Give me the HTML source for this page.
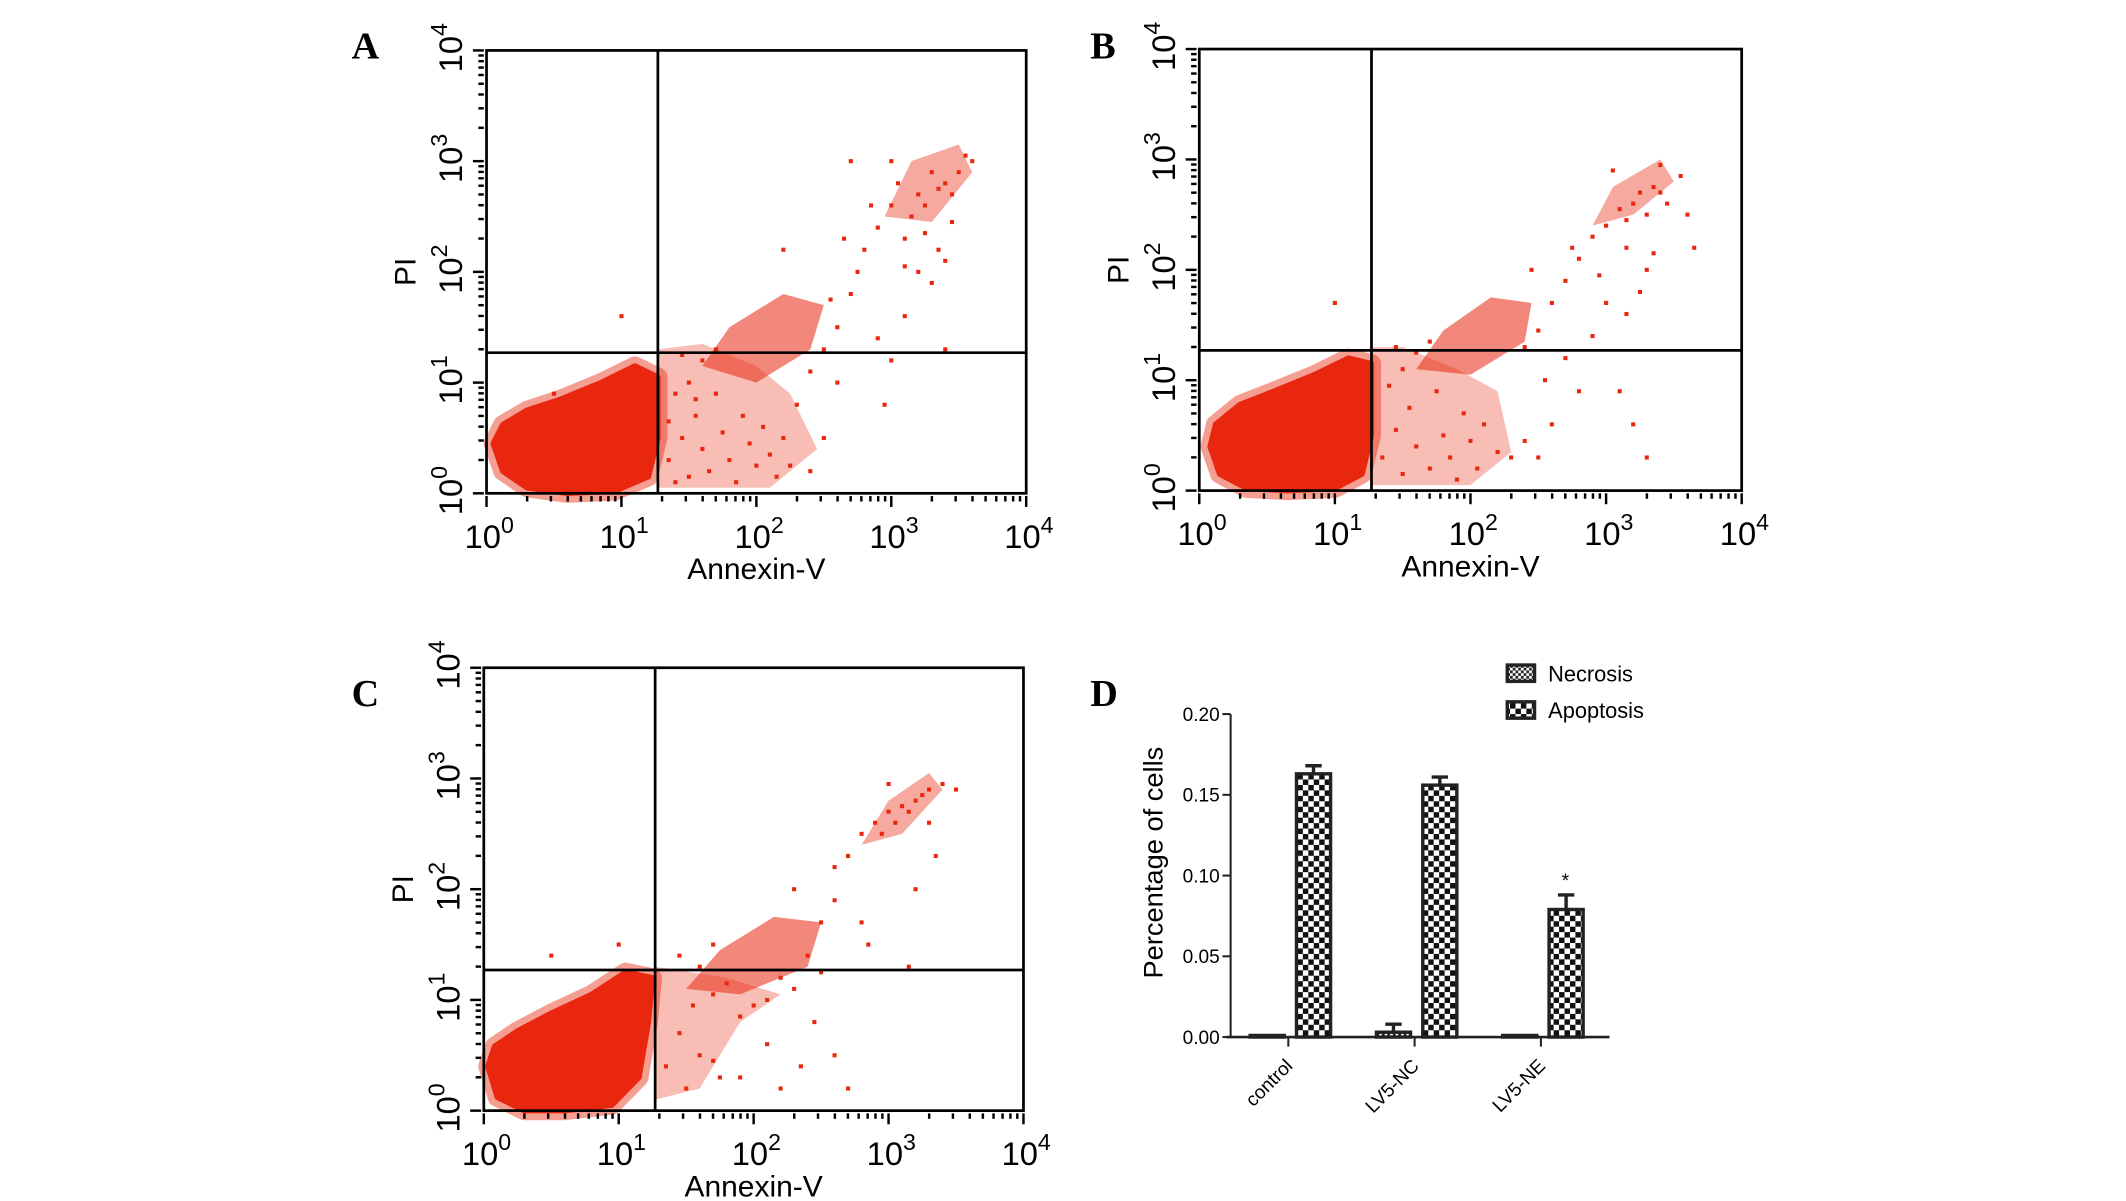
<!DOCTYPE html>
<html><head><meta charset="utf-8"><style>
html,body{margin:0;padding:0;background:#fff;}
svg{display:block;font-family:"Liberation Sans",Arial,sans-serif;}
</style></head><body>
<svg id="fig" width="2126" height="1201" viewBox="0 0 1560 881.3" preserveAspectRatio="none" xmlns="http://www.w3.org/2000/svg">
<defs>
<pattern id="pNec" width="4" height="4" patternUnits="userSpaceOnUse"><rect width="4" height="4" fill="#fff"/><rect width="2" height="2" fill="#222"/><rect x="2" y="2" width="2" height="2" fill="#222"/></pattern>
<pattern id="pApo" width="8" height="8" patternUnits="userSpaceOnUse"><rect width="8" height="8" fill="#fff"/><rect width="4" height="4" fill="#111"/><rect x="4" y="4" width="4" height="4" fill="#111"/></pattern>
</defs>
<g id="root"></g>
</svg>
<script>
// ---------- flow cytometry data (log10 units) ----------
const decadeTicks = [0,1,2,3,4];
const gateA = [1.27, 1.27];
const gateB = [1.27, 1.27];
const gateC = [1.27, 1.27];
const blobA = [[0.05,0.45],[0.12,0.2],[0.3,0.05],[0.6,0.0],[0.95,0.02],[1.2,0.15],[1.27,0.5],[1.27,1.05],[1.1,1.15],[0.85,1.0],[0.55,0.85],[0.3,0.75],[0.12,0.62]];
const blobB = [[0.08,0.4],[0.15,0.15],[0.35,0.02],[0.65,0.0],[1.0,0.02],[1.2,0.15],[1.27,0.5],[1.27,1.15],[1.1,1.2],[0.85,1.05],[0.55,0.9],[0.3,0.78],[0.12,0.6]];
const blobC = [[0.03,0.4],[0.1,0.12],[0.3,0.0],[0.6,0.0],[0.95,0.05],[1.15,0.3],[1.22,0.8],[1.25,1.2],[1.05,1.25],[0.8,1.05],[0.5,0.88],[0.25,0.72],[0.08,0.58]];
const spreadA = [[1.27,0.05],[2.1,0.05],[2.45,0.4],[2.25,0.9],[2.0,1.15],[1.6,1.35],[1.27,1.3]];
const spreadB = [[1.27,0.05],[2.0,0.05],[2.3,0.35],[2.2,0.9],[1.9,1.1],[1.5,1.3],[1.27,1.3]];
const spreadC = [[1.27,0.1],[1.6,0.2],[1.9,0.8],[2.2,1.05],[1.8,1.2],[1.27,1.3]];
const subA = [[1.6,1.15],[2.0,1.0],[2.4,1.3],[2.5,1.7],[2.2,1.8],[1.8,1.5]];
const subB = [[1.6,1.1],[2.0,1.05],[2.4,1.35],[2.45,1.7],[2.15,1.75],[1.8,1.45]];
const subC = [[1.5,1.1],[1.9,1.05],[2.4,1.3],[2.5,1.7],[2.15,1.75],[1.75,1.45]];
const topA = [[2.95,2.5],[3.3,2.45],[3.6,2.9],[3.5,3.15],[3.15,3.0]];
const topB = [[2.9,2.4],[3.2,2.5],[3.5,2.8],[3.4,3.0],[3.05,2.75]];
const topC = [[2.8,2.4],[3.1,2.5],[3.4,2.9],[3.3,3.05],[3.0,2.8]];
const ptsA = [[1.35,0.3],[1.45,0.5],[1.5,0.15],[1.55,0.7],[1.6,0.4],[1.65,0.2],[1.7,0.9],[1.75,0.55],[1.8,0.3],[1.85,0.1],[1.9,0.7],[1.95,0.45],[2.0,0.25],[2.05,0.6],[2.1,0.35],[2.15,0.15],[2.2,0.5],[2.25,0.25],[2.4,0.2],[2.5,0.5],[1.4,0.9],[1.5,1.0],[1.6,1.2],[1.45,1.25],[1.7,1.3],[1.55,0.85],[1.35,0.65],[1.4,0.1],[2.3,0.8],[2.5,1.3],[2.6,1.5],[2.7,1.8],[2.8,2.2],[2.9,2.4],[3.0,2.6],[3.05,2.8],[3.1,2.3],[3.2,2.7],[3.25,2.6],[3.3,2.9],[3.35,2.75],[3.4,2.8],[3.45,2.7],[3.5,2.9],[3.55,3.05],[3.6,3.0],[3.2,2.0],[3.3,1.9],[3.35,2.2],[3.4,2.1],[3.1,1.6],[2.9,1.4],[2.6,1.0],[2.4,1.1],[3.0,1.2],[2.75,2.0],[2.55,1.75],[2.2,2.2],[3.15,2.5],[3.4,1.3],[1.0,1.6],[0.5,0.9],[2.95,0.8],[2.7,3.0],[3.0,3.0],[2.85,2.6],[3.25,2.35],[2.65,2.3],[3.45,2.45],[3.1,2.05]];
const ptsB = [[1.35,0.3],[1.45,0.55],[1.5,0.15],[1.55,0.75],[1.6,0.4],[1.7,0.2],[1.75,0.9],[1.8,0.5],[1.85,0.3],[1.9,0.1],[1.95,0.7],[2.0,0.45],[2.05,0.2],[2.1,0.6],[2.2,0.35],[2.3,0.3],[2.4,0.45],[2.5,0.3],[1.4,0.95],[1.5,1.1],[1.6,1.25],[1.45,1.3],[1.7,1.35],[2.4,1.3],[2.5,1.45],[2.6,1.7],[2.7,1.9],[2.8,2.1],[2.9,2.3],[3.0,2.4],[3.1,2.55],[3.15,2.45],[3.2,2.6],[3.25,2.7],[3.3,2.5],[3.35,2.75],[3.4,2.7],[3.45,2.6],[3.55,2.85],[3.6,2.5],[3.3,2.0],[3.25,1.8],[3.35,2.15],[3.15,1.6],[3.0,1.7],[2.9,1.4],[2.7,1.2],[2.55,1.0],[3.1,0.9],[3.2,0.6],[3.3,0.3],[2.8,0.9],[2.6,0.6],[2.45,2.0],[1.0,1.7],[3.65,2.2],[3.05,2.9],[3.4,2.95],[2.75,2.2],[2.95,1.95],[3.15,2.2]];
const ptsC = [[1.35,0.4],[1.45,0.7],[1.5,0.2],[1.55,0.95],[1.6,0.5],[1.7,1.05],[1.75,0.3],[1.8,1.15],[1.9,0.85],[2.0,0.95],[2.1,1.0],[2.2,1.2],[2.3,1.1],[1.6,1.3],[1.45,1.4],[1.7,1.5],[2.4,1.4],[2.5,1.7],[2.6,1.9],[2.7,2.3],[2.8,2.5],[2.9,2.6],[3.0,2.7],[3.05,2.6],[3.1,2.75],[3.15,2.7],[3.2,2.8],[3.25,2.85],[3.3,2.9],[3.4,2.95],[3.5,2.9],[3.0,2.95],[2.95,2.5],[2.6,2.2],[2.3,2.0],[2.8,1.7],[3.2,2.0],[3.35,2.3],[3.3,2.6],[2.5,1.25],[2.45,0.8],[2.6,0.5],[2.1,0.6],[1.9,0.3],[1.7,0.45],[2.2,0.2],[2.7,0.2],[3.15,1.3],[1.0,1.5],[0.5,1.4],[2.85,1.5],[2.35,0.4]];

// ---------- bar chart data ----------
const categories = ["control","LV5-NC","LV5-NE"];
const necrosis = [0.001,0.003,0.001];
const necrosisErr = [0.0,0.005,0.0];
const apoptosis = [0.163,0.156,0.079];
const apoptosisErr = [0.005,0.005,0.009];
const yTicks = [0.00,0.05,0.10,0.15,0.20];
const yTickLabels = ["0.00","0.05","0.10","0.15","0.20"];

const NS="http://www.w3.org/2000/svg";
const root=document.getElementById('root');
function mk(tag,attrs,parent){const e=document.createElementNS(NS,tag);for(const k in attrs)e.setAttribute(k,attrs[k]);(parent||root).appendChild(e);return e;}

function panel(id,box,gate,blob,spread,sub,top,pts,label,labelPos){
  const g=mk('g',{});
  
  
  const sx=v=>box.x0+(box.x1-box.x0)*v/4;
  const sy=v=>box.y1-(box.y1-box.y0)*v/4;
  const red='#e8270e';
  const poly=p=>p.map(q=>sx(q[0])+','+sy(q[1])).join(' ');
  const sp=mk('polygon',{points:poly(spread),fill:red,'fill-opacity':0.3,stroke:'none'},g);
  
  
  const halo=mk('polygon',{points:poly(blob),fill:'none',stroke:red,'stroke-opacity':0.45,'stroke-width':14,'stroke-linejoin':'round'},g);
  
  
  const bl=mk('polygon',{points:poly(blob),fill:red,stroke:red,'stroke-width':4,'stroke-linejoin':'round'},g);
  
  
  const sb=mk('polygon',{points:poly(sub),fill:red,'fill-opacity':0.55,stroke:'none'},g);
  
  
  const tp=mk('polygon',{points:poly(top),fill:red,'fill-opacity':0.4,stroke:'none'},g);
  
  
  pts.forEach(p=>{
    const r=mk('rect',{x:sx(p[0])-1.5,y:sy(p[1])-1.5,width:3,height:3,fill:red},g);
    
    
  });
  const fr=mk('rect',{x:box.x0,y:box.y0,width:box.x1-box.x0,height:box.y1-box.y0,fill:'none',stroke:'#000','stroke-width':2},g);
  
  
  const vl=mk('line',{x1:sx(gate[0]),x2:sx(gate[0]),y1:box.y0,y2:box.y1,stroke:'#000','stroke-width':2},g);
  
  
  const hl=mk('line',{x1:box.x0,x2:box.x1,y1:sy(gate[1]),y2:sy(gate[1]),stroke:'#000','stroke-width':2},g);
  
  
  for(let d=0;d<4;d++){for(let m=1;m<10;m++){const v=d+Math.log10(m);const len=m===1?8:4;
    mk('line',{x1:sx(v),x2:sx(v),y1:box.y1+2,y2:box.y1+2+len,stroke:'#000','stroke-width':1.8},g);
    mk('line',{x1:box.x0-2,x2:box.x0-2-len,y1:sy(v),y2:sy(v),stroke:'#000','stroke-width':1.8},g);}}
  mk('line',{x1:sx(4),x2:sx(4),y1:box.y1+2,y2:box.y1+10,stroke:'#000','stroke-width':1.8},g);
  mk('line',{x1:box.x0-2,x2:box.x0-10,y1:sy(4),y2:sy(4),stroke:'#000','stroke-width':1.8},g);
  decadeTicks.forEach(d=>{
    const t=mk('text',{x:sx(d)+2,y:box.y1+40,'font-size':24,'text-anchor':'middle'},g);
    
    
    t.innerHTML='10<tspan font-size="17" dy="-11">'+d+'</tspan>';
    const ty=mk('text',{x:0,y:0,'font-size':24,'text-anchor':'middle',transform:'translate('+(box.x0-18)+','+(sy(d)-2)+') rotate(-90)'},g);
    
    
    ty.innerHTML='10<tspan font-size="17" dy="-11">'+d+'</tspan>';
  });
  const xt=mk('text',{x:(box.x0+box.x1)/2,y:box.y1+63,'font-size':22,'text-anchor':'middle'},g);
  
  
  xt.textContent='Annexin-V';
  const yt=mk('text',{x:0,y:0,'font-size':22,'text-anchor':'middle',transform:'translate('+(box.x0-52)+','+sy(2.0)+') rotate(-90)'},g);
  
  
  yt.textContent='PI';
  const pl=mk('text',{x:labelPos[0],y:labelPos[1],'font-size':28,'font-weight':'bold','font-family':'Liberation Serif, serif'},g);
  
  
  pl.textContent=label;
}
panel('a',{x0:357,x1:753,y0:37,y1:362},gateA,blobA,spreadA,subA,topA,ptsA,'A',[258,43]);
panel('b',{x0:880,x1:1278,y0:36,y1:360},gateB,blobB,spreadB,subB,topB,ptsB,'B',[800,43]);
panel('c',{x0:355,x1:751,y0:490,y1:815},gateC,blobC,spreadC,subC,topC,ptsC,'C',[258,518]);

// ---------- bar chart ----------
(function(){
  const g=mk('g',{});
  
  
  const X0=903,X1=1181,Y0=761,Ytop=524;
  const y=v=>Y0-(Y0-Ytop)*v/0.2;
  const band=(X1-X0)/categories.length;
  const cx=i=>X0+band*(i+0.5)-4;
  mk('line',{x1:X0,x2:X0,y1:Ytop,y2:Y0,stroke:'#222','stroke-width':1.5},g);
  mk('line',{x1:X0-3,x2:X1,y1:Y0,y2:Y0,stroke:'#222','stroke-width':2},g);
  yTicks.forEach((v,i)=>{
    mk('line',{x1:X0-6,x2:X0,y1:y(v),y2:y(v),stroke:'#222','stroke-width':1.5},g);
    const t=mk('text',{x:X0-8,y:y(v)+5,'font-size':14,'text-anchor':'end'},g);
    
    
    t.textContent=yTickLabels[i];
  });
  categories.forEach((c,i)=>{
    mk('line',{x1:cx(i),x2:cx(i),y1:Y0,y2:Y0+7,stroke:'#222','stroke-width':1.5},g);
    const t=mk('text',{x:0,y:0,'font-size':14,'text-anchor':'end',transform:'translate('+(cx(i)+4)+','+(Y0+22)+') rotate(-45)'},g);
    
    
    t.textContent=c;
    const bw=25;
    function bar(val,err,x,fill,name){
      const b=mk('rect',{x:x,y:y(val),width:bw,height:Math.max(Y0-y(val),1),fill:fill,stroke:'#222','stroke-width':2.5},g);
      
      
      if(err>0){
        const e=mk('path',{d:'M'+(x+bw/2)+','+y(val)+'V'+y(val+err)+'M'+(x+bw/2-6)+','+y(val+err)+'H'+(x+bw/2+6),stroke:'#222','stroke-width':2.5,fill:'none'},g);
        
        
      }
    }
    bar(necrosis[i],necrosisErr[i],cx(i)-28,'url(#pNec)','bar-necrosis-'+c.toLowerCase());
    bar(apoptosis[i],apoptosisErr[i],cx(i)+6,'url(#pApo)','bar-apoptosis-'+c.toLowerCase());
  });
  const star=mk('text',{x:cx(2)+18,y:y(apoptosis[2]+apoptosisErr[2])-6,'font-size':14,'text-anchor':'middle'},g);
  
  
  star.textContent='*';
  const yt=mk('text',{x:0,y:0,'font-size':20,'text-anchor':'middle',transform:'translate(853,633) rotate(-90)'},g);
  
  
  yt.textContent='Percentage of cells';
  [['Necrosis','url(#pNec)',494],['Apoptosis','url(#pApo)',521]].forEach(l=>{
    const lg=mk('g',{},g);
    
    
    mk('rect',{x:1106,y:l[2]-6,width:20,height:12,fill:l[1],stroke:'#222','stroke-width':2.5},lg);
    const t=mk('text',{x:1136,y:l[2]+6,'font-size':16},lg);
    t.textContent=l[0];
  });
  const pl=mk('text',{x:800,y:518,'font-size':28,'font-weight':'bold','font-family':'Liberation Serif, serif'},g);
  
  
  pl.textContent='D';
})();
</script>
</body></html>
